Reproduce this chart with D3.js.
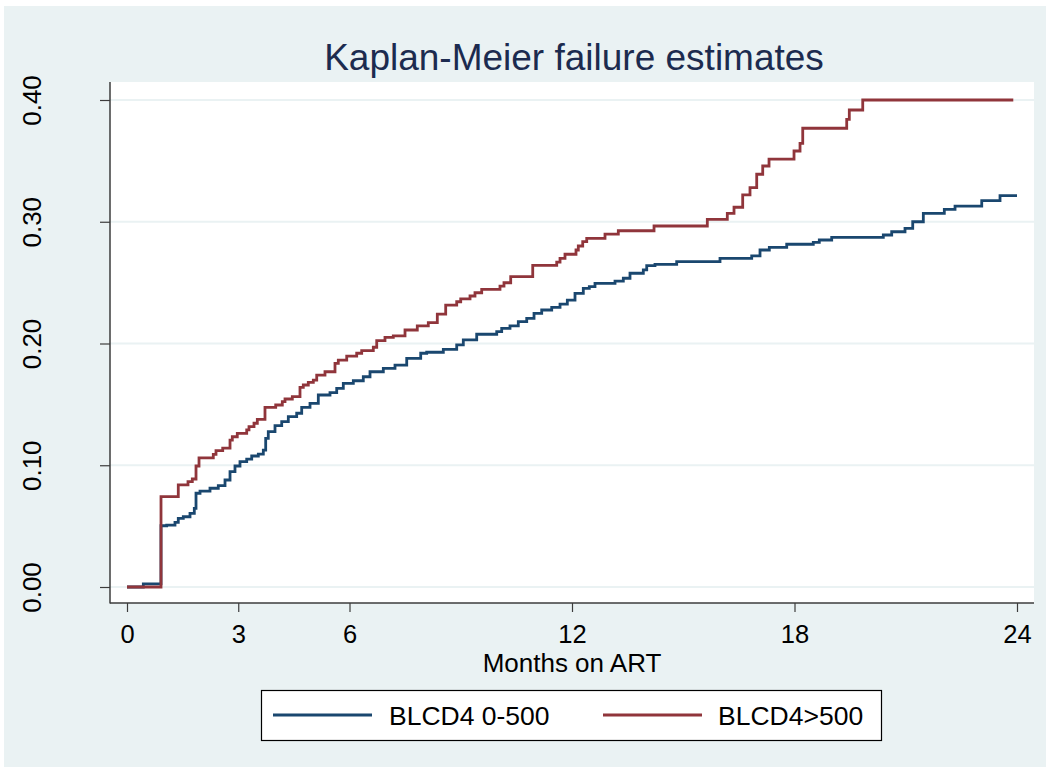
<!DOCTYPE html>
<html>
<head>
<meta charset="utf-8">
<script src="https://cdn.jsdelivr.net/npm/d3@7/dist/d3.min.js"></script>
<style>
  html, body { margin: 0; padding: 0; background: #ffffff; }
  svg { display: block; }
  text { font-family: "Liberation Sans", Arial, sans-serif; }
</style>
</head>
<body>
<svg id="chart" width="1050" height="771"></svg>
<script>
// ---------- data ----------
const titleText = "Kaplan-Meier failure estimates";
const xTitle = "Months on ART";
const xTicks = [0, 3, 6, 12, 18, 24];
const yTicks = [0, 0.1, 0.2, 0.3, 0.4];
const seriesNames = ["BLCD4 0-500", "BLCD4>500"];

// BLCD4 0-500 : step times (months) and failure estimate after each step
const blueTimes = [0, 0.44, 0.917, 1.071, 1.294, 1.383, 1.518, 1.699, 1.815, 1.861, 1.969,
  2.238, 2.462, 2.643, 2.778, 2.912, 3.047, 3.228, 3.363, 3.541, 3.676, 3.74, 3.81, 3.991,
  4.172, 4.35, 4.576, 4.711, 4.935, 5.159, 5.474, 5.655, 5.833, 6.103, 6.372, 6.553, 6.912,
  7.227, 7.543, 7.92, 8.082, 8.53, 8.891, 9.069, 9.43, 9.97, 10.104, 10.328, 10.552, 10.779,
  10.976, 11.183, 11.453, 11.677, 11.874, 12.081, 12.305, 12.467, 12.62, 13.16, 13.384,
  13.564, 13.923, 14.015, 14.238, 14.823, 15.991, 16.846, 17.07, 17.321, 17.79, 18.507,
  18.669, 19.003, 20.395, 20.621, 20.98, 21.188, 21.474, 22.04, 22.329, 23.049, 23.542, 24.0];
const blueValues = [0, 0.0025, 0.0503, 0.0509, 0.0531, 0.0564, 0.0577, 0.0605, 0.0646, 0.077, 0.0788,
  0.0811, 0.0832, 0.0879, 0.0947, 0.0994, 0.1029, 0.1051, 0.1076, 0.1092, 0.1125, 0.1221, 0.1276, 0.1325,
  0.1358, 0.1399, 0.1427, 0.1476, 0.1509, 0.1577, 0.1596, 0.1632, 0.1673, 0.1694, 0.1727, 0.1768, 0.1796,
  0.1823, 0.1878, 0.192, 0.1928, 0.1952, 0.1988, 0.2029, 0.2076, 0.2097, 0.2125, 0.2144, 0.2179, 0.2207,
  0.2248, 0.2275, 0.2297, 0.2324, 0.2357, 0.2412, 0.2453, 0.2467, 0.2494, 0.2513, 0.2536,
  0.2577, 0.2604, 0.2639, 0.265, 0.2672, 0.27, 0.2719, 0.2768, 0.279, 0.2815, 0.2831,
  0.285, 0.2872, 0.2891, 0.2918, 0.2946, 0.3, 0.3069, 0.3102, 0.3129, 0.3173, 0.3214, 0.3214];

// BLCD4>500
const redTimes = [0, 0.917, 1.383, 1.645, 1.761, 1.861, 1.942, 2.327, 2.4, 2.581, 2.778, 2.84,
  2.974, 3.228, 3.29, 3.425, 3.514, 3.721, 4.01, 4.188, 4.261, 4.458, 4.665, 4.754, 4.889,
  5.024, 5.116, 5.339, 5.609, 5.698, 5.925, 6.194, 6.329, 6.642, 6.734, 6.957, 7.181, 7.497,
  7.828, 8.125, 8.368, 8.594, 8.891, 8.999, 9.25, 9.384, 9.565, 10.058, 10.166, 10.347,
  10.941, 11.588, 11.677, 11.811, 12.108, 12.17, 12.289, 12.397, 12.89, 13.249, 14.212,
  15.649, 16.188, 16.369, 16.603, 16.8, 16.981, 17.143, 17.313, 17.987, 18.149, 18.222,
  19.408, 19.478, 19.84, 23.9];
const redValues = [0, 0.0742, 0.0838, 0.0865, 0.0887, 0.0994, 0.106, 0.109, 0.112, 0.114, 0.1207, 0.1234,
  0.1262, 0.129, 0.1317, 0.1345, 0.1377, 0.1476, 0.1495, 0.1522, 0.1544, 0.1563, 0.164, 0.1659, 0.1681,
  0.17, 0.1741, 0.1768, 0.1837, 0.1864, 0.1897, 0.192, 0.1941, 0.1969, 0.2023, 0.2051, 0.2062, 0.2111,
  0.2144, 0.2171, 0.2242, 0.2316, 0.2343, 0.2366, 0.239, 0.2417, 0.2445, 0.2472, 0.2499, 0.2549,
  0.2642, 0.2669, 0.27, 0.2733, 0.2768, 0.2801, 0.2836, 0.2864, 0.2899, 0.2926, 0.2965,
  0.302, 0.3069, 0.3119, 0.322, 0.328, 0.339, 0.3458, 0.3515, 0.3581, 0.3644, 0.3768,
  0.3841, 0.3918, 0.4, 0.4];

// ---------- layout ----------
const svg = d3.select("#chart");
const colors = { blue: "#1a476f", red: "#90353b", bg: "#eaf2f3", axis: "#3c3c3c", title: "#1c2b4f" };
const plot = { left: 110, right: 1034, top: 82, bottom: 603 };

svg.append("rect").attr("x", 4).attr("y", 6).attr("width", 1042).attr("height", 761)
  .attr("fill", colors.bg);
svg.append("rect").attr("x", plot.left).attr("y", plot.top)
  .attr("width", plot.right - plot.left).attr("height", plot.bottom - plot.top)
  .attr("fill", "#ffffff");

const x = d3.scaleLinear().domain([0, 24]).range([127, 1017]);
const y = d3.scaleLinear().domain([0, 0.4]).range([587, 100]);

// gridlines
svg.append("g").selectAll("line").data(yTicks).join("line")
  .attr("x1", plot.left).attr("x2", plot.right)
  .attr("y1", d => y(d)).attr("y2", d => y(d))
  .attr("stroke", colors.bg).attr("stroke-width", 2);

// curves
const line = d3.line().x(d => x(d[0])).y(d => y(d[1])).curve(d3.curveStepAfter);
const blueData = blueTimes.map((t, i) => [t, blueValues[i]]);
const redData = redTimes.map((t, i) => [t, redValues[i]]);
svg.append("path").datum(blueData).attr("d", line).attr("fill", "none")
  .attr("stroke", colors.blue).attr("stroke-width", 2.8).attr("stroke-linejoin", "miter");
svg.append("path").datum(redData).attr("d", line).attr("fill", "none")
  .attr("stroke", colors.red).attr("stroke-width", 2.8).attr("stroke-linejoin", "miter");

// axes
const yAxis = svg.append("g").attr("transform", `translate(${plot.left},0)`)
  .call(d3.axisLeft(y).tickValues(yTicks).tickSize(10).tickFormat(d3.format(".2f")));
yAxis.select(".domain").remove();
yAxis.selectAll(".tick line").attr("stroke", colors.axis).attr("stroke-width", 1.2);
yAxis.selectAll(".tick text")
  .attr("transform", "rotate(-90)")
  .attr("x", 0).attr("y", -69).attr("dy", 0)
  .attr("text-anchor", "middle")
  .attr("font-size", 26).attr("fill", "#000")
  .style("font-family", '"Liberation Sans", Arial, sans-serif');

const xAxis = svg.append("g").attr("transform", `translate(0,${plot.bottom})`)
  .call(d3.axisBottom(x).tickValues(xTicks).tickSize(9).tickFormat(d3.format("d")));
xAxis.select(".domain").remove();
xAxis.selectAll(".tick line").attr("stroke", colors.axis).attr("stroke-width", 1.2);
xAxis.selectAll(".tick text")
  .attr("y", 40).attr("dy", 0)
  .attr("font-size", 25.5).attr("fill", "#000")
  .style("font-family", '"Liberation Sans", Arial, sans-serif');

// axis lines
svg.append("line").attr("x1", plot.left).attr("x2", plot.left)
  .attr("y1", plot.top).attr("y2", plot.bottom + 0.5)
  .attr("stroke", colors.axis).attr("stroke-width", 1.5);
svg.append("line").attr("x1", plot.left).attr("x2", plot.right)
  .attr("y1", plot.bottom).attr("y2", plot.bottom)
  .attr("stroke", colors.axis).attr("stroke-width", 1.5);

// titles
svg.append("text").attr("x", 574).attr("y", 70).attr("text-anchor", "middle")
  .attr("font-size", 37).attr("fill", colors.title).text(titleText);
svg.append("text").attr("x", 572).attr("y", 672).attr("text-anchor", "middle")
  .attr("font-size", 26).attr("fill", "#000").text(xTitle);

// legend
const lg = svg.append("g");
lg.append("rect").attr("x", 261.5).attr("y", 690.5).attr("width", 620).attr("height", 50)
  .attr("fill", "#ffffff").attr("stroke", "#000").attr("stroke-width", 1.2);
const legendItems = [
  { name: seriesNames[0], color: colors.blue, x1: 273, x2: 372, tx: 389 },
  { name: seriesNames[1], color: colors.red, x1: 603, x2: 702, tx: 718 }
];
legendItems.forEach(it => {
  lg.append("line").attr("x1", it.x1).attr("x2", it.x2).attr("y1", 715).attr("y2", 715)
    .attr("stroke", it.color).attr("stroke-width", 2.8);
  lg.append("text").attr("x", it.tx).attr("y", 725).attr("font-size", 26.5)
    .attr("fill", "#000").text(it.name);
});
</script>
</body>
</html>
